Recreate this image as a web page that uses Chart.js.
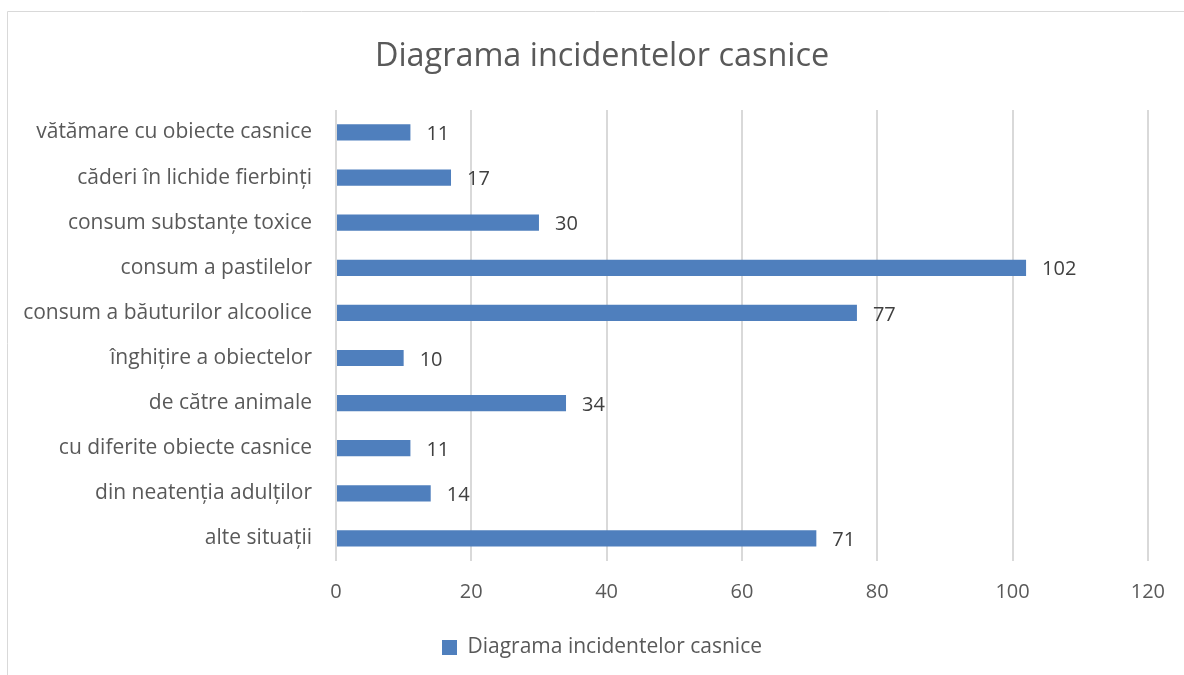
<!DOCTYPE html>
<html>
<head>
<meta charset="utf-8">
<script src="https://cdn.jsdelivr.net/npm/chart.js@4/dist/chart.umd.min.js"></script>
<style>
  html, body { margin: 0; padding: 0; background: #fff; }
  #wrap { position: relative; width: 1184px; height: 675px; }
</style>
</head>
<body>
<div id="wrap"><canvas id="chart" width="1184" height="675"></canvas></div>
<script>
// categories, top to bottom
const categories = [
  'vătămare cu obiecte casnice',
  'căderi în lichide fierbinți',
  'consum substanțe toxice',
  'consum a pastilelor',
  'consum a băuturilor alcoolice',
  'înghițire a obiectelor',
  'de către animale',
  'cu diferite obiecte casnice',
  'din neatenția adulților',
  'alte situații'
];
const values = [11, 17, 30, 102, 77, 10, 34, 11, 14, 71];
const seriesName = 'Diagrama incidentelor casnice';
const xTicks = [0, 20, 40, 60, 80, 100, 120];

const FONT = '"Open Sans", Lato, sans-serif';
const BAR = '#4f7fbd';

// light frame round the chart (left + top only, like the screenshot)
const framePlugin = {
  id: 'frame',
  beforeDraw(chart) {
    const ctx = chart.ctx;
    ctx.save();
    ctx.strokeStyle = '#d9d9d9';
    ctx.lineWidth = 1;
    ctx.beginPath();
    ctx.moveTo(7.5, 675);
    ctx.lineTo(7.5, 11.5);
    ctx.lineTo(1184, 11.5);
    ctx.stroke();
    ctx.restore();
  }
};

// title and legend sit a bit right of the canvas centre in the original
const shiftBlocks = {
  id: 'shiftBlocks',
  afterLayout(chart) {
    [chart.titleBlock, chart.legend].forEach(b => {
      if (!b) return;
      b.left += 28;
      b.right += 28;
    });
  }
};

// value labels at the end of each bar
const valueLabels = {
  id: 'valueLabels',
  afterDatasetsDraw(chart) {
    const ctx = chart.ctx;
    ctx.save();
    ctx.font = '20px ' + FONT;
    ctx.fillStyle = '#404040';
    ctx.textAlign = 'left';
    ctx.textBaseline = 'middle';
    chart.getDatasetMeta(0).data.forEach((bar, i) => {
      ctx.fillText(values[i], bar.x + 16, bar.y + 2);
    });
    ctx.restore();
  }
};

new Chart(document.getElementById('chart'), {
  type: 'bar',
  data: {
    labels: categories,
    datasets: [{
      label: seriesName,
      data: values,
      backgroundColor: BAR,
      borderWidth: 0,
      barPercentage: 0.36,
      categoryPercentage: 1
    }]
  },
  options: {
    indexAxis: 'y',
    responsive: false,
    animation: false,
    layout: { padding: { left: 0, right: 36, top: 0, bottom: 7 } },
    scales: {
      x: {
        min: 0,
        max: 120,
        afterBuildTicks(scale) {
          scale.ticks = xTicks.map(v => ({ value: v }));
        },
        afterFit(scale) { scale.height = 67; },
        grid: { color: '#d9d9d9', lineWidth: 2, drawTicks: false },
        border: { display: false },
        ticks: {
          padding: 19,
          color: '#595959',
          font: { family: FONT, size: 20 }
        }
      },
      y: {
        afterFit(scale) { scale.width = 336; },
        grid: { display: false, drawTicks: false },
        border: { display: false },
        ticks: {
          padding: 24,
          color: '#595959',
          font: { family: FONT, size: 21 }
        }
      }
    },
    plugins: {
      title: {
        display: true,
        text: seriesName,
        color: '#595959',
        font: { family: FONT, size: 32.4, weight: 'normal' },
        padding: { top: 37.5, bottom: 33.5 }
      },
      legend: {
        position: 'bottom',
        labels: {
          color: '#595959',
          font: { family: FONT, size: 21 },
          boxWidth: 15,
          boxHeight: 15,
          padding: 9
        }
      },
      tooltip: { enabled: false }
    }
  },
  plugins: [framePlugin, shiftBlocks, valueLabels]
});
</script>
</body>
</html>
